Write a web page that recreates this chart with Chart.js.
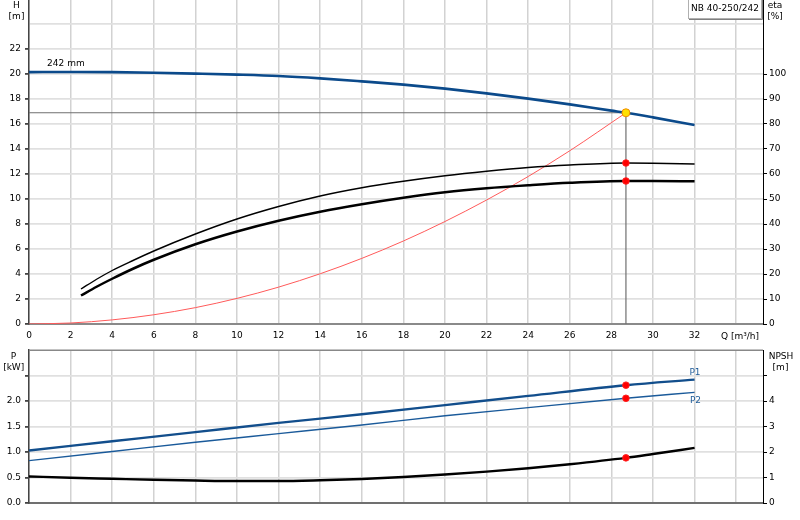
<!DOCTYPE html>
<html><head><meta charset="utf-8">
<script src="https://cdn.jsdelivr.net/npm/chart.js@4.4.0/dist/chart.umd.min.js"></script>
<style>
html,body{margin:0;padding:0;background:#fff;width:800px;height:520px;overflow:hidden}
#c1{position:absolute;left:0;top:0}
#c2{position:absolute;left:0;top:345px}
</style></head><body>
<canvas id="c1" width="800" height="345" style="width:800px;height:345px"></canvas>
<canvas id="c2" width="800" height="175" style="width:800px;height:175px"></canvas>
<script>
// ---------------- data ----------------
const headQ = [0,2,4,6,8,10,12,14,16,18,20,22,24,26,28,28.7,30,32];
const headH = [20.15,20.16,20.15,20.1,20.03,19.95,19.84,19.65,19.41,19.15,18.83,18.45,18.03,17.57,17.07,16.9,16.53,15.92];
const etaQ = [2.5,3.25,4,5,6,8,10,12,14,16,18,20,22,24,26,28.7,30,32];
const etaPump = [14.0,17.9,21.4,25.4,29.2,36.0,42.0,47.0,51.2,54.5,57.1,59.3,61.1,62.6,63.6,64.4,64.3,64.0];
const etaTotal = [11.4,14.9,18.1,22.1,25.7,31.9,37.0,41.3,44.9,47.9,50.5,52.7,54.3,55.5,56.5,57.2,57.2,57.1];
const sysQ = [0,2,4,6,8,10,12,14,16,18,20,22,24,26,28.7];
const sysH = [0,0.08,0.33,0.74,1.31,2.05,2.95,4.02,5.25,6.64,8.2,9.92,11.8,13.86,16.9];
const powQ = [0,4,8,12,16,20,24,28.7,32];
const powP1 = [1.03,1.21,1.39,1.57,1.74,1.92,2.10,2.31,2.42];
const powP2 = [0.83,1.01,1.19,1.36,1.53,1.71,1.87,2.053,2.17];
const npshQ = [0,2,4,6,8,10,12,14,16,18,20,22,24,26,28.7,30,32];
const npshV = [1.04,0.99,0.95,0.91,0.88,0.86,0.86,0.89,0.94,1.02,1.12,1.23,1.36,1.52,1.77,1.92,2.16];
const dutyQ = 28.7;
const dutyH = 16.9;
const dutyEta = [64.4, 57.2];
const dutyPow = [2.31, 2.053];
const dutyNpsh = 1.77;
const qTicks = [0,2,4,6,8,10,12,14,16,18,20,22,24,26,28,30,32,34];
const hTicks = [0,2,4,6,8,10,12,14,16,18,20,22,24];
const etaTicks = [0,10,20,30,40,50,60,70,80,90,100];
const pTicks = [0,0.5,1.0,1.5,2.0,2.5];
const npshTicks = [0,1,2,3,4,5];
const qMax = 35.29, hMax = 25.92, etaMax = 129.6, pMax = 3.0, npshMax = 6.0;

// ---------------- helpers ----------------
const zip = (xs, ys) => xs.map((x, i) => ({x: x, y: ys[i]}));
const setTicks = arr => s => { s.ticks = arr.map(v => ({value: v})); };
const fitY = w => s => { s.width = w; s.paddingTop = 0; s.paddingBottom = 0; };
const fitX = h => s => { s.height = h; s.paddingLeft = 0; s.paddingRight = 0; };
const FONT = '9px "DejaVu Sans"';
Chart.defaults.font.family = 'DejaVu Sans';
Chart.defaults.font.size = 9;
Chart.defaults.color = '#000';

function line(data, color, width, axis, order) {
  return {data: data, showLine: true, borderColor: color, borderWidth: width, pointRadius: 0,
    cubicInterpolationMode: 'monotone', yAxisID: axis || 'y', order: order == null ? 1 : order, fill: false};
}
function dots(data, axis, fillC, borderC, r) {
  return {data: data, showLine: false, pointRadius: r, pointBackgroundColor: fillC,
    pointBorderColor: borderC, pointBorderWidth: 1, yAxisID: axis || 'y', order: 0};
}

const common = {
  responsive: false, maintainAspectRatio: false, animation: false,
  plugins: {legend: {display: false}, tooltip: {enabled: false}}
};

// ---------------- top chart ----------------
const topText = {
  id: 'topText',
  afterDraw(chart) {
    const ctx = chart.ctx, xs = chart.scales.x;
    ctx.save();
    ctx.font = FONT; ctx.fillStyle = '#000'; ctx.textBaseline = 'alphabetic';
    ctx.textAlign = 'center';
    ctx.fillText('H', 16.5, 7.5);
    ctx.fillText('[m]', 16.5, 19);
    ctx.fillText('eta', 775, 7.5);
    ctx.fillText('[%]', 775, 19);
    ctx.fillText('Q [m\u00B3/h]', 740, 338.5);
    ctx.textAlign = 'left';
    ctx.fillText('242 mm', xs.getPixelForValue(0.87), 65.5);
    // title box
    ctx.fillStyle = '#fff';
    ctx.fillRect(688.5, -2, 73, 21);
    ctx.strokeStyle = '#b0b0b0'; ctx.lineWidth = 1;
    ctx.strokeRect(688.5, -2.5, 73, 21);
    ctx.strokeStyle = '#808080';
    ctx.beginPath(); ctx.moveTo(762.5, 0); ctx.lineTo(762.5, 19.5); ctx.lineTo(689, 19.5); ctx.stroke();
    ctx.fillStyle = '#000'; ctx.textAlign = 'center';
    ctx.fillText('NB 40-250/242', 725, 10.5);
    ctx.restore();
  }
};

new Chart(document.getElementById('c1'), {
  type: 'scatter',
  data: {datasets: [
    dots([{x: dutyQ, y: dutyH}], 'y', '#ffe000', '#f08c00', 4),
    dots([{x: dutyQ, y: dutyEta[0]}, {x: dutyQ, y: dutyEta[1]}], 'y2', '#ff0000', '#ff2020', 3.3),
    line(zip(headQ, headH), '#0b4a8b', 2.6, 'y', 1),
    line(zip(etaQ, etaPump), '#000', 1.4, 'y2', 1),
    line(zip(etaQ, etaTotal), '#000', 2.5, 'y2', 1),
    line(zip(sysQ, sysH), '#ff5a5a', 1, 'y', 2),
    {data: [{x: 0, y: dutyH}, {x: dutyQ, y: dutyH}, {x: dutyQ, y: 0}], showLine: true,
      borderColor: '#707070', borderWidth: 1.2, pointRadius: 0, tension: 0, order: 3, yAxisID: 'y'}
  ]},
  options: Object.assign({}, common, {
    layout: {padding: 0, autoPadding: false},
    scales: {
      x: {type: 'linear', min: 0, max: qMax,
        afterBuildTicks: setTicks(qTicks), afterFit: fitX(21),
        ticks: {callback: v => v === 34 ? '' : String(v), padding: 6, maxRotation: 0, autoSkip: false},
        grid: {color: '#d2d2d2', lineWidth: 1.5, drawTicks: false},
        border: {color: '#8a8a8a', width: 2}},
      y: {position: 'left', min: 0, max: hMax,
        afterBuildTicks: setTicks(hTicks), afterFit: fitY(29),
        ticks: {callback: v => v === 24 ? '' : String(v), padding: 4, autoSkip: false},
        grid: {color: '#e0e0e0', lineWidth: 1.8, tickLength: 4,
          tickColor: c => (c.tick && c.tick.value === 24) ? 'rgba(0,0,0,0)' : '#444'},
        border: {color: '#444', width: 1.5}},
      y2: {position: 'right', min: 0, max: etaMax,
        afterBuildTicks: setTicks(etaTicks), afterFit: fitY(37),
        ticks: {padding: 2, autoSkip: false},
        grid: {drawOnChartArea: false, tickLength: 4, tickColor: '#000'},
        border: {color: '#000', width: 1}}
    }
  }),
  plugins: [topText]
});

// ---------------- bottom chart ----------------
const botText = {
  id: 'botText',
  afterDraw(chart) {
    const ctx = chart.ctx, a = chart.chartArea;
    ctx.save();
    ctx.strokeStyle = '#888'; ctx.lineWidth = 1.5;
    ctx.beginPath(); ctx.moveTo(a.left, a.top + 0.25); ctx.lineTo(a.right, a.top + 0.25); ctx.stroke();
    ctx.font = FONT; ctx.fillStyle = '#000'; ctx.textAlign = 'center'; ctx.textBaseline = 'alphabetic';
    ctx.fillText('P', 13.5, 359.3 - 345);
    ctx.fillText('[kW]', 13.7, 369.5 - 345);
    ctx.fillText('NPSH', 781, 359.3 - 345);
    ctx.fillText('[m]', 780.5, 369.5 - 345);
    ctx.fillStyle = '#1f5c99';
    ctx.fillText('P1', 695, 375 - 345);
    ctx.fillText('P2', 695.5, 403.3 - 345);
    ctx.restore();
  }
};

new Chart(document.getElementById('c2'), {
  type: 'scatter',
  data: {datasets: [
    dots([{x: dutyQ, y: dutyPow[0]}, {x: dutyQ, y: dutyPow[1]}], 'y', '#ff0000', '#ff2020', 3.3),
    dots([{x: dutyQ, y: dutyNpsh}], 'y2', '#ff0000', '#ff2020', 3.3),
    line(zip(powQ, powP1), '#124e8c', 2.4, 'y', 1),
    line(zip(powQ, powP2), '#1a5a9a', 1.4, 'y', 1),
    line(zip(npshQ, npshV), '#000', 2.4, 'y2', 1)
  ]},
  options: Object.assign({}, common, {
    layout: {padding: {top: 5, left: 0, right: 0, bottom: 0}, autoPadding: false},
    scales: {
      x: {type: 'linear', min: 0, max: qMax,
        afterBuildTicks: setTicks(qTicks), afterFit: fitX(17),
        ticks: {display: false},
        grid: {color: '#d2d2d2', lineWidth: 1.5, drawTicks: false},
        border: {color: '#707070', width: 2}},
      y: {position: 'left', min: 0, max: pMax,
        afterBuildTicks: setTicks(pTicks), afterFit: fitY(29),
        ticks: {callback: v => v === 2.5 ? '' : v.toFixed(1), padding: 4, autoSkip: false},
        grid: {color: '#e0e0e0', lineWidth: 1.8, tickLength: 4, tickColor: '#444'},
        border: {color: '#444', width: 1.5}},
      y2: {position: 'right', min: 0, max: npshMax,
        afterBuildTicks: setTicks(npshTicks), afterFit: fitY(37),
        ticks: {callback: v => v === 5 ? '' : String(v), padding: 2, autoSkip: false},
        grid: {drawOnChartArea: false, tickLength: 4, tickColor: '#000'},
        border: {color: '#000', width: 1}}
    }
  }),
  plugins: [botText]
});
</script>
</body></html>
